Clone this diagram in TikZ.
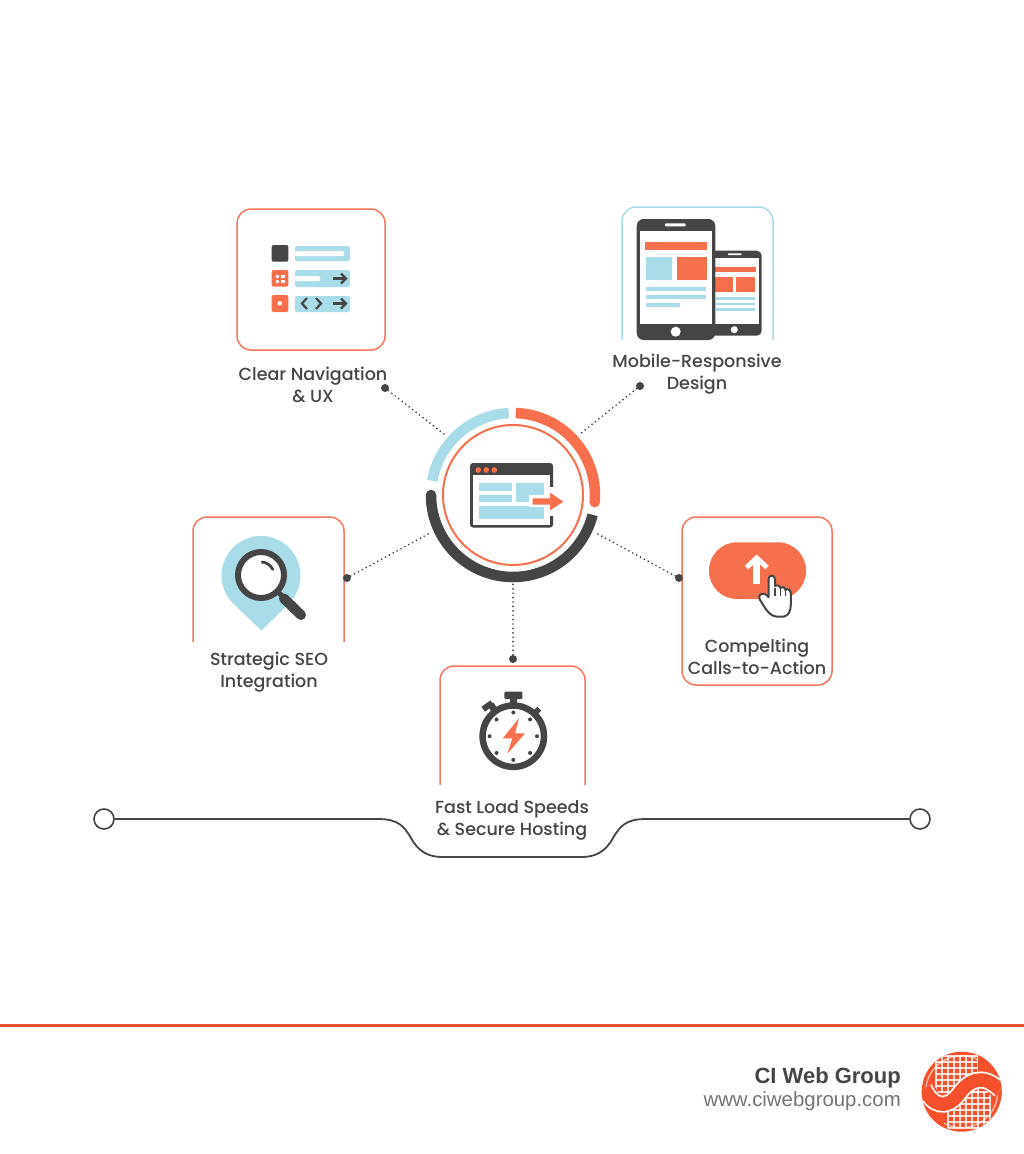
\documentclass[tikz,border=0pt]{standalone}
\usepackage{fontspec}
\setmainfont{Poppins Medium}
\newfontfamily\footfont{Liberation Sans}

\definecolor{coral}{HTML}{F7704E}
\definecolor{cardline}{HTML}{F5785F}
\definecolor{skyblue}{HTML}{A9DCE9}
\definecolor{slate}{HTML}{454545}
\definecolor{rulered}{HTML}{F4512C}

\tikzset{
    card/.style={draw=cardline, line width=1.5pt, rounded corners=14pt},
    label/.style={text=slate, font=\fontsize{17.5}{22}\selectfont, align=center},
    enddot/.style={circle, fill=slate, inner sep=0pt, minimum size=8pt},
    spoke/.style={slate, line width=1.9pt, line cap=round, dash pattern=on 0pt off 4.4pt},
    endcap/.style={circle, draw=slate, fill=white, line width=1.6pt, inner sep=0pt, minimum size=20pt}
}

\begin{document}
\begin{tikzpicture}[x=1pt, y=-1pt]

\useasboundingbox (0, 0) rectangle (1024, 1154);
\fill[white] (0, 0) rectangle (1024, 1154);

\draw[card] (237, 209) rectangle (385, 350);
\draw[skyblue, line width=1.5pt, rounded corners=14pt] (622, 340) -- (622, 207) -- (773, 207) -- (773, 340);
\draw[card] (193, 642) -- (193, 517) -- (344, 517) -- (344, 642);
\draw[card] (682, 517) rectangle (832, 685);
\draw[card] (440, 785) -- (440, 666) -- (585, 666) -- (585, 785);

\node[label] (navlabel) at (313, 385) {Clear Navigation\\\& UX};
\node[label] (mobilelabel) at (697, 374.5) {Mobile-Responsive\\Design};
\node[label] (seolabel) at (269, 672) {Strategic SEO\\Integration};
\node[label] (ctalabel) at (757, 657) {Compelting\\Calls-to-Action};
\node[label] (speedlabel) at (512, 820.5) {Fast Load Speeds\\\& Secure Hosting};

\node[enddot] (navdot) at (385, 388) {};
\node[enddot] (mobiledot) at (640, 386) {};
\node[enddot] (seodot) at (347, 578) {};
\node[enddot] (ctadot) at (679, 578) {};
\node[enddot] (speeddot) at (513, 659) {};

\coordinate (navend) at (444, 434);
\coordinate (mobileend) at (580, 434);
\coordinate (seoend) at (430, 533);
\coordinate (ctaend) at (596, 533);
\coordinate (speedend) at (513, 583);

\draw[spoke] (navdot) -- (navend);
\draw[spoke] (mobiledot) -- (mobileend);
\draw[spoke] (seodot) -- (seoend);
\draw[spoke] (ctadot) -- (ctaend);
\draw[spoke] (speeddot) -- (speedend);

\draw[skyblue, line width=10.5pt] (513, 495) ++(-93:82) arc[start angle=-93, end angle=-170, radius=82];
\draw[coral, line width=10.5pt] (513, 495) ++(-88:82) arc[start angle=-88, end angle=5, radius=82];
\fill[coral] (513, 495) ++(5:82) circle[radius=5.25];
\draw[slate, line width=10.5pt] (513, 495) ++(180:82) arc[start angle=180, end angle=14, radius=82];
\fill[slate] (513, 495) ++(180:82) circle[radius=5.25];
\draw[coral, line width=2pt] (513, 495) circle[radius=70];

\fill[slate, rounded corners=3pt] (470, 463) rectangle (553, 527.5);
\fill[white] (473, 475) rectangle (550, 524.5);
\fill[white] (549, 487) rectangle (554, 516);
\foreach \x in {478.3, 486.3, 494.3}
    \fill[coral] (\x, 470) circle[radius=2.8];
\fill[skyblue] (479, 483) rectangle (511.7, 491);
\fill[skyblue] (479, 494.7) rectangle (511.7, 502);
\fill[skyblue] (479, 506) rectangle (544, 519);
\fill[skyblue] (516, 483) rectangle (544, 501.7);
\fill[white] (529, 495) rectangle (553, 507);
\fill[coral] (532.7, 498.3) -- (550, 498.3) -- (550, 492.7) -- (563.3, 501.7) -- (550, 510.3) -- (550, 504.5) -- (532.7, 504.5) -- cycle;

\fill[slate, rounded corners=2pt] (271.7, 245) rectangle (288.3, 261.7);
\fill[coral, rounded corners=2pt] (271.7, 270) rectangle (288.3, 286.7);
\fill[coral, rounded corners=2pt] (271.7, 295) rectangle (288.3, 312);
\fill[skyblue, rounded corners=2pt] (295, 246) rectangle (350, 261);
\fill[skyblue, rounded corners=2pt] (295, 270) rectangle (350, 287);
\fill[skyblue, rounded corners=2pt] (295, 296) rectangle (350, 312);
\fill[white, rounded corners=1pt] (295, 251) rectangle (344, 256);
\fill[white, rounded corners=1pt] (295, 276) rectangle (320, 281);
\foreach \x in {275.5, 281}
    \foreach \y in {274.5, 280}
        \fill[white] (\x, \y) rectangle ++(3.8, 3);
\fill[white] (279.8, 303.3) circle[radius=2.2];
\foreach \y in {278.5, 303.5} {
    \draw[slate, line width=2.2pt] (333, \y) -- (345, \y);
    \draw[slate, line width=2.2pt] (341, \y-5) -- (346, \y) -- (341, \y+5);
}
\draw[slate, line width=2.2pt] (307, 298) -- (302, 303.5) -- (307, 309);
\draw[slate, line width=2.2pt] (316, 298) -- (321, 303.5) -- (316, 309);

\fill[slate, rounded corners=5pt] (705, 250.7) rectangle (761.7, 335.7);
\fill[white] (715.3, 257.7) rectangle (759.3, 324.3);
\fill[white, rounded corners=0.8pt] (727.7, 253.3) rectangle (741.7, 255);
\fill[white] (734.3, 329.7) circle[radius=3.5];
\fill[coral] (715, 267.3) rectangle (755.7, 271.7);
\fill[coral] (715, 276.7) rectangle (732.7, 292.3);
\fill[coral] (736, 276.7) rectangle (755.3, 292.3);
\foreach \y in {297, 302.7, 308.3}
    \fill[skyblue] (716, \y) rectangle (755, \y+2.7);
\fill[slate, rounded corners=7pt] (636.7, 219) rectangle (715.3, 340);
\fill[white] (640, 230.7) rectangle (712, 324);
\fill[white, rounded corners=1pt] (665, 223.3) rectangle (685.7, 226.3);
\fill[white] (675.7, 331.7) circle[radius=5];
\fill[coral] (645.3, 242.3) rectangle (706.7, 250);
\fill[skyblue] (645.7, 256.7) rectangle (671.7, 280);
\fill[coral] (676.7, 256.7) rectangle (706.7, 280);
\fill[skyblue] (645.7, 286.7) rectangle (706, 290.7);
\fill[skyblue] (645.7, 295) rectangle (706, 299);
\fill[skyblue] (645.7, 303.3) rectangle (680, 307.3);

\fill[skyblue] (261.5, 630.7) -- (288.4, 603.9) arc[start angle=46, end angle=-226, radius=39.5] -- cycle;
\draw[slate, line width=6pt, fill=white] (261, 575) circle[radius=23];
\draw[slate, line width=2.8pt, line cap=round] (261, 575) ++(-85:13) arc[start angle=-85, end angle=-25, radius=13];
\draw[slate, line width=5pt] (276, 590) -- (284, 598);
\draw[slate, line width=10pt, line cap=round] (284, 598.5) -- (301, 615);

\fill[coral, rounded corners=28pt] (709, 542.3) rectangle (806, 599);
\draw[white, line width=6.5pt] (756.7, 584) -- (756.7, 560);
\draw[white, line width=5pt] (746.5, 567.5) -- (756.7, 558) -- (767, 567.5);
\draw[slate, fill=white, line width=2pt, line join=round] (768.5, 597) -- (768.5, 579) .. controls (768.5, 574.5) and (775, 574.5) .. (775, 579) -- (775, 586) .. controls (776, 585) and (780, 585) .. (780.5, 588) .. controls (781.5, 586.5) and (785, 586.5) .. (785.5, 590) .. controls (786.5, 588.5) and (790.5, 589) .. (790.8, 593) -- (790.8, 605) .. controls (790.8, 611) and (788, 616) .. (784, 616.5) -- (776, 616.5) .. controls (771, 616) and (768, 612) .. (765, 608) -- (759.5, 599) .. controls (757.5, 594) and (764, 591) .. (768.5, 597) -- cycle;
\foreach \x in {775, 780.5, 785.5}
    \draw[slate, line width=1.5pt] (\x, 588) -- (\x, 596);

\fill[slate, rounded corners=1pt] (504.3, 691.7) rectangle (522.3, 699);
\fill[slate] (510, 699) rectangle (517.3, 704);
\fill[slate, rotate around={35:(487.7, 706)}] (482.2, 703) rectangle (493.2, 709);
\fill[slate] (488, 706) -- (493.5, 702.5) -- (497, 708) -- (491.5, 712) -- cycle;
\fill[slate, rotate around={45:(537.3, 710.7)}] (534.5, 708) rectangle (540.1, 713.4);
\draw[slate, line width=6.5pt, fill=white] (513.3, 736.2) circle[radius=30.7];
\foreach \a in {0, 45, ..., 315}
    \fill[slate] (513.3, 736.2) ++(\a:23.7) circle[radius=2];
\fill[coral] (519, 718.3) -- (502.7, 738.3) -- (512.3, 738.3) -- (507.7, 753.3) -- (525, 733.3) -- (515, 733.3) -- cycle;

\node[endcap] (leftcap) at (104, 819) {};
\node[endcap] (rightcap) at (920, 819) {};

\draw[slate, line width=1.8pt] (leftcap) -- (378, 819) .. controls (398, 819) and (404, 826) .. (411, 838) .. controls (418, 851) and (428, 857) .. (442, 857) -- (582, 857) .. controls (596, 857) and (606, 851) .. (613, 838) .. controls (620, 826) and (626, 819) .. (646, 819) -- (rightcap);

\fill[rulered] (0, 1023.5) rectangle (1024, 1026.5);

\node[anchor=east, inner sep=0pt, text=slate, font=\footfont\bfseries\fontsize{22}{26}\selectfont] (company) at (901, 1078) {CI Web Group};
\node[anchor=east, inner sep=0pt, text=slate!75, font=\footfont\fontsize{20.4}{22}\selectfont] (website) at (901, 1101) {www.ciwebgroup.com};

\begin{scope}
\clip (961.7, 1091.7) circle[radius=40];
\fill[rulered] (921, 1051) rectangle (1002, 1132);
\draw[white, line width=1.4pt, opacity=0.6] (961.7, 1091.7) circle[radius=36];
\foreach \x in {936, 942, ..., 978}
    \draw[white, line width=1.5pt, opacity=0.8] (\x, 1056) -- (\x, 1092);
\foreach \y in {1056, 1062, ..., 1092}
    \draw[white, line width=1.5pt, opacity=0.8] (936, \y) -- (978, \y);
\foreach \x in {948, 954, ..., 990}
    \draw[white, line width=1.5pt, opacity=0.8] (\x, 1092) -- (\x, 1128);
\foreach \y in {1092, 1098, ..., 1128}
    \draw[white, line width=1.5pt, opacity=0.8] (948, \y) -- (990, \y);
\fill[rulered] (921, 1088) -- (936, 1088) -- (944, 1110) -- (944, 1132) -- (921, 1132) -- cycle;
\fill[rulered] (1002, 1095) -- (990, 1095) -- (978, 1072) -- (978, 1051) -- (1002, 1051) -- cycle;
\draw[white, line width=17pt] (924, 1088) .. controls (932, 1106) and (946, 1110) .. (958, 1095) .. controls (968, 1081) and (982, 1072) .. (1000, 1090);
\draw[rulered, line width=13.5pt] (924, 1088) .. controls (932, 1106) and (946, 1110) .. (958, 1095) .. controls (968, 1081) and (982, 1072) .. (1000, 1090);
\end{scope}

\end{tikzpicture}
\end{document}
